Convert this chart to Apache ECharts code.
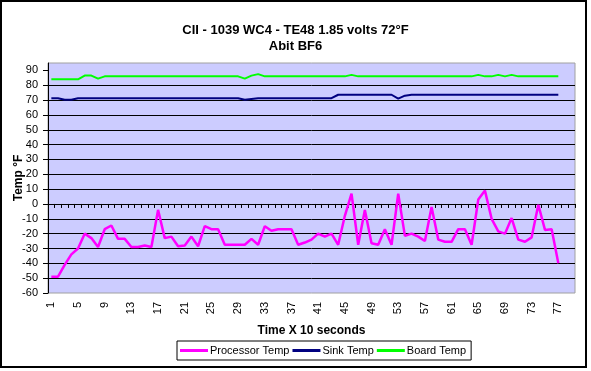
<!DOCTYPE html>
<html>
<head>
<meta charset="utf-8">
<script src="https://cdn.jsdelivr.net/npm/echarts@6/dist/echarts.min.js"></script>
<style>
html,body{margin:0;padding:0;background:#fff;}
#chart{width:591px;height:371px;}
</style>
</head>
<body>
<div id="chart"></div>
<script>
// categories on the x axis (79 slots, 77 readings)
var categories = [];
for (var c = 1; c <= 79; c++) categories.push(String(c));

var yTicks = [-60, -50, -40, -30, -20, -10, 0, 10, 20, 30, 40, 50, 60, 70, 80, 90];

var processorTemp = [
  -49, -49, -41, -34, -30, -20, -23, -29, -17, -14.5,
  -23.5, -23.5, -29, -29, -28, -29, -4, -23, -22, -28.5,
  -28, -22, -28.5, -15, -17, -17, -27.5, -27.5, -27.5, -27.5,
  -23.5, -27.5, -15, -18, -17, -17, -17, -27.5, -26, -24,
  -20, -22, -20, -27.5, -8, 7, -27.5, -4, -26.5, -27.5,
  -17, -27.5, 7, -21.5, -20, -22, -25, -2, -24, -25.5,
  -25.5, -17, -17, -27.5, 3, 9, -10, -18.5, -20, -9.5,
  -24, -25.5, -22.5, -0.5, -17.5, -17, -40
];

var sinkTemp = [
  71.3, 71.3, 70.2, 70.2, 71.3, 71.3, 71.3, 71.3, 71.3, 71.3,
  71.3, 71.3, 71.3, 71.3, 71.3, 71.3, 71.3, 71.3, 71.3, 71.3,
  71.3, 71.3, 71.3, 71.3, 71.3, 71.3, 71.3, 71.3, 71.3, 70.2,
  70.8, 71.3, 71.3, 71.3, 71.3, 71.3, 71.3, 71.3, 71.3, 71.3,
  71.3, 71.3, 71.3, 73.6, 73.6, 73.6, 73.6, 73.6, 73.6, 73.6,
  73.6, 73.6, 71, 73, 73.6, 73.6, 73.6, 73.6, 73.6, 73.6,
  73.6, 73.6, 73.6, 73.6, 73.6, 73.6, 73.6, 73.6, 73.6, 73.6,
  73.6, 73.6, 73.6, 73.6, 73.6, 73.6, 73.6
];

var boardTemp = [
  84, 84, 84, 84, 84, 86.5, 86.5, 84.5, 86, 86,
  86, 86, 86, 86, 86, 86, 86, 86, 86, 86,
  86, 86, 86, 86, 86, 86, 86, 86, 86, 84.5,
  86.5, 87.5, 86, 86, 86, 86, 86, 86, 86, 86,
  86, 86, 86, 86, 86, 87, 86, 86, 86, 86,
  86, 86, 86, 86, 86, 86, 86, 86, 86, 86,
  86, 86, 86, 86, 87, 86, 86, 87, 86, 87,
  86, 86, 86, 86, 86, 86, 86
];

var FONT = "'Liberation Sans', Arial, sans-serif";
var chart = echarts.init(document.getElementById('chart'), null, {renderer: 'canvas'});

chart.setOption({
  backgroundColor: '#ffffff',
  animation: false,
  title: {
    text: 'CII - 1039 WC4 - TE48 1.85 volts 72°F\nAbit BF6',
    left: 'center',
    top: 17,
    textStyle: {fontFamily: FONT, fontSize: 13, fontWeight: 'bold', color: '#000', lineHeight: 16}
  },
  graphic: [{
    type: 'rect',
    shape: {x: 1, y: 1, width: 585, height: 366},
    style: {fill: 'none', stroke: '#000', lineWidth: 2},
    silent: true
  }],
  legend: {
    left: 177,
    top: 341,
    orient: 'horizontal',
    itemWidth: 28,
    itemHeight: 3,
    itemGap: 3,
    icon: 'rect',
    padding: [4, 5, 4, 3],
    borderColor: '#000',
    borderWidth: 1,
    textStyle: {fontFamily: FONT, fontSize: 11, color: '#000', padding: [0, 0, 0, -3]},
    data: ['Processor Temp', 'Sink Temp', 'Board Temp']
  },
  grid: {
    left: 48, right: 16, top: 63, bottom: 78,
    containLabel: false,
    outerBoundsMode: 'none',
    show: true,
    backgroundColor: '#ccccff',
    borderColor: '#a0a0a0',
    borderWidth: 1
  },
  xAxis: {
    type: 'category',
    data: categories,
    boundaryGap: true,
    name: 'Time X 10 seconds',
    nameLocation: 'middle',
    nameGap: 32,
    nameMoveOverlap: false,
    nameTextStyle: {fontFamily: FONT, fontSize: 12, fontWeight: 'bold', color: '#000'},
    axisLine: {show: true, lineStyle: {color: '#000', width: 1}},
    axisTick: {show: true, interval: 0, length: 4, lineStyle: {color: '#000'}},
    axisLabel: {interval: 3, rotate: 90, margin: 9, fontFamily: FONT, fontSize: 11, color: '#000'},
    splitLine: {show: false}
  },
  yAxis: {
    type: 'value',
    min: -60,
    max: 95,
    interval: 10,
    name: 'Temp °F',
    nameLocation: 'middle',
    nameGap: 23,
    nameMoveOverlap: false,
    nameRotate: 90,
    nameTextStyle: {fontFamily: FONT, fontSize: 12, fontWeight: 'bold', color: '#000'},
    axisLine: {show: true, lineStyle: {color: '#000', width: 1}},
    axisTick: {show: true, length: 5, lineStyle: {color: '#000'}, customValues: yTicks},
    axisLabel: {margin: 10, fontFamily: FONT, fontSize: 11, color: '#000', customValues: yTicks},
    splitLine: {show: true, showMinLine: false, showMaxLine: false, lineStyle: {color: '#000', width: 1}}
  },
  series: [
    {name: 'Processor Temp', type: 'line', data: processorTemp, symbol: 'none',
     lineStyle: {color: '#ff00ff', width: 2.5}, itemStyle: {color: '#ff00ff'}},
    {name: 'Sink Temp', type: 'line', data: sinkTemp, symbol: 'none',
     lineStyle: {color: '#000080', width: 2}, itemStyle: {color: '#000080'}},
    {name: 'Board Temp', type: 'line', data: boardTemp, symbol: 'none',
     lineStyle: {color: '#00ff00', width: 2}, itemStyle: {color: '#00ff00'}}
  ]
});
</script>
</body>
</html>
